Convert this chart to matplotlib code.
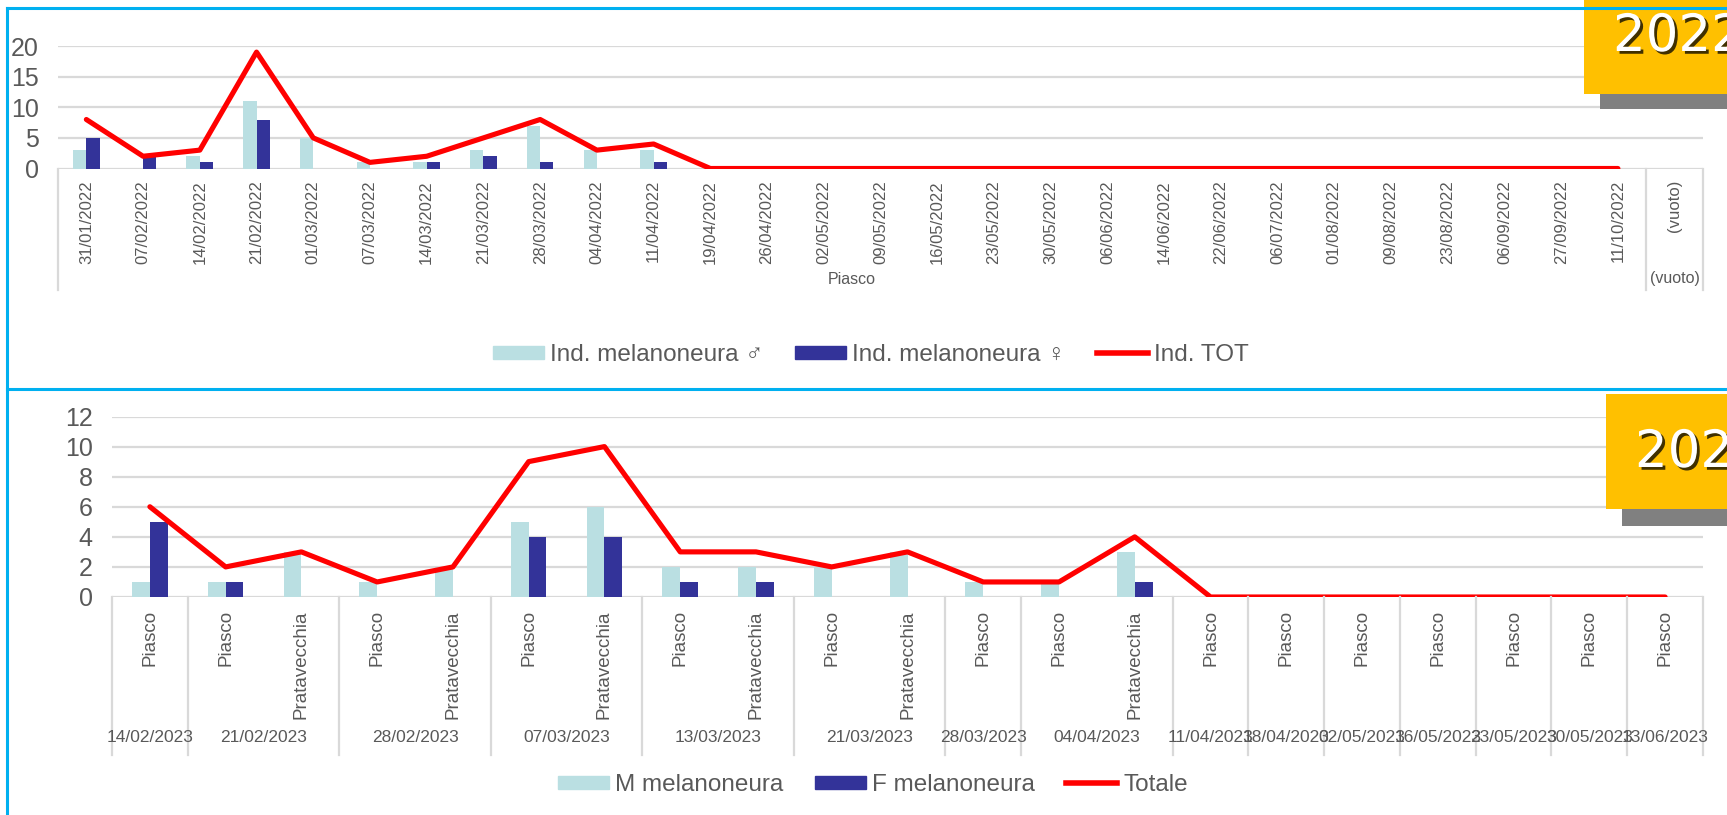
import numpy as np
import matplotlib
matplotlib.use('Agg')
import matplotlib.pyplot as plt
import matplotlib.patheffects as pe
import matplotlib.transforms as mtransforms
from matplotlib.lines import Line2D
from matplotlib.patches import Patch, Rectangle

# ---- data 2022 ----
dates_2022 = ['31/01/2022', '07/02/2022', '14/02/2022', '21/02/2022', '01/03/2022',
              '07/03/2022', '14/03/2022', '21/03/2022', '28/03/2022', '04/04/2022',
              '11/04/2022', '19/04/2022', '26/04/2022', '02/05/2022', '09/05/2022',
              '16/05/2022', '23/05/2022', '30/05/2022', '06/06/2022', '14/06/2022',
              '22/06/2022', '06/07/2022', '01/08/2022', '09/08/2022', '23/08/2022',
              '06/09/2022', '27/09/2022', '11/10/2022', '(vuoto)']
groups_2022 = ['Piasco', '(vuoto)']
group_sizes_2022 = [28, 1]
male_2022 = [3, 0, 2, 11, 5, 1, 1, 3, 7, 3, 3, 0, 0, 0, 0, 0, 0, 0, 0, 0,
             0, 0, 0, 0, 0, 0, 0, 0, 0]
female_2022 = [5, 2, 1, 8, 0, 0, 1, 2, 1, 0, 1, 0, 0, 0, 0, 0, 0, 0, 0, 0,
               0, 0, 0, 0, 0, 0, 0, 0, 0]
tot_2022 = [8, 2, 3, 19, 5, 1, 2, 5, 8, 3, 4, 0, 0, 0, 0, 0, 0, 0, 0, 0,
            0, 0, 0, 0, 0, 0, 0, 0]

# ---- data 2023 ----
sites_2023 = ['Piasco', 'Piasco', 'Pratavecchia', 'Piasco', 'Pratavecchia',
              'Piasco', 'Pratavecchia', 'Piasco', 'Pratavecchia', 'Piasco',
              'Pratavecchia', 'Piasco', 'Piasco', 'Pratavecchia', 'Piasco',
              'Piasco', 'Piasco', 'Piasco', 'Piasco', 'Piasco', 'Piasco']
groups_2023 = ['14/02/2023', '21/02/2023', '28/02/2023', '07/03/2023', '13/03/2023',
               '21/03/2023', '28/03/2023', '04/04/2023', '11/04/2023', '18/04/2023',
               '02/05/2023', '16/05/2023', '23/05/2023', '30/05/2023', '13/06/2023']
group_sizes_2023 = [1, 2, 2, 2, 2, 2, 1, 2, 1, 1, 1, 1, 1, 1, 1]
male_2023 = [1, 1, 3, 1, 2, 5, 6, 2, 2, 2, 3, 1, 1, 3, 0, 0, 0, 0, 0, 0, 0]
female_2023 = [5, 1, 0, 0, 0, 4, 4, 1, 1, 0, 0, 0, 0, 1, 0, 0, 0, 0, 0, 0, 0]
tot_2023 = [6, 2, 3, 1, 2, 9, 10, 3, 3, 2, 3, 1, 1, 4, 0, 0, 0, 0, 0, 0, 0]

# ---- style ----
W, H = 1727, 815
M_COL = '#badfe2'
F_COL = '#333399'
TOT_COL = '#ff0000'
GRID = '#d9d9d9'
TXT = '#595959'
BLUE = '#00b0f0'

plt.rcParams['font.family'] = ['Liberation Sans', 'DejaVu Sans']

fig = plt.figure(figsize=(W / 100, H / 100), dpi=100)


def fx(x):
    return x / W


def fy(y):
    return 1 - y / H


def draw_chart(l, t, r, b, cats, groups, sizes, male, female, tot, ymax, ystep,
               cat_size, cat_pad, group_y, group_size, sep_bottom):
    ax = fig.add_axes([fx(l), fy(b), (r - l) / W, (b - t) / H])
    n = len(cats)
    x = np.arange(n)
    w = 0.235
    ax.bar(x - w / 2, male, w, color=M_COL, zorder=2)
    ax.bar(x + w / 2, female, w, color=F_COL, zorder=2)
    ax.plot(x[:len(tot)], tot, color=TOT_COL, lw=3.7,
            solid_joinstyle='round', solid_capstyle='round', zorder=3)
    ax.set_xlim(-0.5, n - 0.5)
    ax.set_ylim(0, ymax)
    ax.set_yticks(np.arange(0, ymax + 1, ystep))
    ax.grid(axis='y', color=GRID, lw=1.6)
    ax.set_axisbelow(True)
    for s in ax.spines.values():
        s.set_visible(False)
    ax.tick_params(axis='y', length=0, pad=14, labelsize=18, labelcolor=TXT)
    ax.set_xticks(x, cats, rotation=90)
    ax.tick_params(axis='x', length=0, pad=cat_pad, labelsize=cat_size, labelcolor=TXT)

    # outer category labels + separators
    trans = mtransforms.blended_transform_factory(ax.transData, fig.transFigure)
    edges = np.concatenate([[0], np.cumsum(sizes)]) - 0.5
    for e in edges:
        fig.add_artist(Line2D([e, e], [fy(b), fy(sep_bottom)], transform=trans,
                              color=GRID, lw=1.6))
    for name, lo, hi in zip(groups, edges[:-1], edges[1:]):
        fig.text((lo + hi) / 2, fy(group_y), name, transform=trans, ha='center',
                 va='center', fontsize=group_size, color=TXT)
    return ax


draw_chart(58, 46, 1703, 168.5, dates_2022, groups_2022, group_sizes_2022,
           male_2022, female_2022, tot_2022, 20, 5,
           12, 8.3, 279, 11.5, 290)
draw_chart(112, 416.5, 1703, 597, sites_2023, groups_2023, group_sizes_2023,
           male_2023, female_2023, tot_2023, 12, 2,
           13.5, 9.4, 737, 12.5, 755)

# legends
leg_kw = dict(loc='center', ncol=3, frameon=False, fontsize=17.5, handlelength=2.1,
              handleheight=0.45, handletextpad=0.25, columnspacing=1.3, labelcolor=TXT)
h1 = [Patch(color=M_COL), Patch(color=F_COL), Line2D([], [], color=TOT_COL, lw=4)]
fig.legend(h1, ['Ind. melanoneura ♂', 'Ind. melanoneura ♀', 'Ind. TOT'],
           bbox_to_anchor=(fx(871), fy(355)), **leg_kw)
h2 = [Patch(color=M_COL), Patch(color=F_COL), Line2D([], [], color=TOT_COL, lw=4)]
fig.legend(h2, ['M melanoneura', 'F melanoneura', 'Totale'],
           bbox_to_anchor=(fx(873), fy(785)), **leg_kw)

# panel borders
for xs, ys in [([7, W], [8, 8]), ([7, 7], [8, H]), ([7, W], [389, 389])]:
    fig.add_artist(Line2D([fx(v) for v in xs], [fy(v) for v in ys],
                          transform=fig.transFigure, color=BLUE, lw=2.2))

# year badges
shadow = [pe.withSimplePatchShadow(offset=(2, -2), shadow_rgbFace='black', alpha=0.75)]
for yl, yt, yb, sb, tx, ty, label in [(1584, -5, 94, 109, 1613, 37, '2022'),
                                      (1606, 394, 509, 526, 1635, 453, '2023')]:
    fig.add_artist(Rectangle((fx(yl + 16), fy(sb)), (W - yl) / W, (sb - yb) / H,
                             transform=fig.transFigure, color='#808080', lw=0))
    fig.add_artist(Rectangle((fx(yl), fy(yb)), (W - yl) / W, (yb - yt) / H,
                             transform=fig.transFigure, color='#ffc000', lw=0))
    fig.text(fx(tx), fy(ty), label, fontsize=37, color='white', ha='left', va='center',
             family='DejaVu Sans', path_effects=shadow)

fig.savefig('out.png', dpi=100, facecolor='white')
